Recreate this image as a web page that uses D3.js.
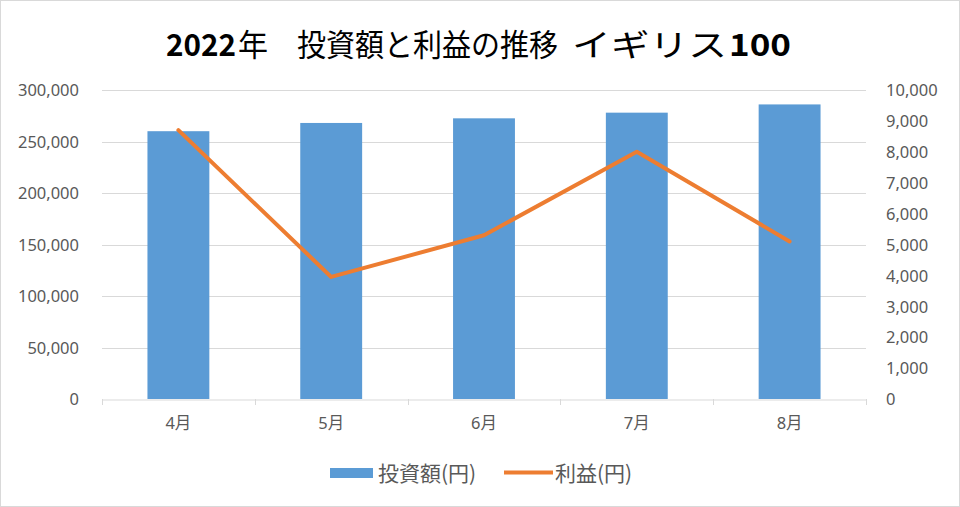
<!DOCTYPE html>
<html><head><meta charset="utf-8">
<script src="https://cdn.jsdelivr.net/npm/d3@7"></script>
<style>body{margin:0;background:#fff}svg{display:block}</style>
</head><body><svg id="c" width="960" height="507"></svg>
<script>
// title segments: text, bold, left x, width
const titleParts = [["2022",true,166,70],["年",false,238,30],["投資額と利益の推移",false,297,261],["イギリス",false,572,155],["100",true,729,62]];
const categories = ["4月","5月","6月","7月","8月"];
const investment = [260000, 268000, 272500, 278000, 286000];
const profit = [8700, 3950, 5300, 8000, 5100];
const leftTicks = [0,50000,100000,150000,200000,250000,300000];
const rightTicks = [0,1000,2000,3000,4000,5000,6000,7000,8000,9000,10000];
const seriesNames = ["投資額(円)","利益(円)"];

const svg = d3.select("#c");
const W=960,H=507;
const m={l:102,r:94,t:90,b:108};
const x0=m.l,x1=W-m.r,y0=H-m.b,y1=m.t;
svg.append("rect").attr("x",0.5).attr("y",0.5).attr("width",W-1).attr("height",H-1).attr("fill","#fff").attr("stroke","#d9d9d9");

const x=d3.scaleBand().domain(categories).range([x0,x1]).paddingInner(0.595).paddingOuter(0.2975);
const xb=d3.scaleBand().domain(categories).range([x0,x1]);
const yL=d3.scaleLinear().domain([0,300000]).range([y0,y1]);
const yR=d3.scaleLinear().domain([0,10000]).range([y0,y1]);
const fmt=d3.format(",");
const txt="#595959";
const font="'Noto Sans', 'Noto Sans CJK JP', sans-serif";
const cjk="'Noto Sans CJK JP', sans-serif";

// gridlines
svg.append("g").selectAll("line").data(leftTicks.filter(d=>d>0)).join("line")
 .attr("x1",x0).attr("x2",x1).attr("y1",d=>Math.round(yL(d))+0.5).attr("y2",d=>Math.round(yL(d))+0.5)
 .attr("stroke","#d9d9d9").attr("stroke-width",1);

// left axis
const gl=svg.append("g").attr("transform",`translate(${x0-20},0)`).call(d3.axisLeft(yL).tickValues(leftTicks).tickFormat(fmt).tickSize(0));
gl.select(".domain").remove();
gl.selectAll("text").attr("fill",txt).style("font-family",font).style("font-size","16.5px").attr("dy","0.35em");
// right axis
const gr=svg.append("g").attr("transform",`translate(${x1+20},0)`).call(d3.axisRight(yR).tickValues(rightTicks).tickFormat(fmt).tickSize(0));
gr.select(".domain").remove();
gr.selectAll("text").attr("fill",txt).style("font-family",font).style("font-size","16.5px").attr("dy","0.35em").attr("x",0);

// bars
svg.append("g").selectAll("rect").data(categories).join("rect")
 .attr("x",d=>x(d)).attr("width",x.bandwidth())
 .attr("y",(d,i)=>yL(investment[i])).attr("height",(d,i)=>y0-yL(investment[i]))
 .attr("fill","#5b9bd5");

// x axis
const gx=svg.append("g").attr("transform",`translate(0,${Math.round(y0)+0.5})`).call(d3.axisBottom(xb).tickSize(0).tickPadding(18));
gx.select(".domain").attr("stroke","#d9d9d9");
gx.selectAll("text").attr("fill",txt).style("font-family",font).style("font-size","16.5px");
svg.append("g").selectAll("line").data(categories.concat(["end"])).join("line")
 .attr("x1",(d,i)=>Math.round(x0+i*xb.step())+0.5).attr("x2",(d,i)=>Math.round(x0+i*xb.step())+0.5)
 .attr("y1",Math.round(y0)).attr("y2",Math.round(y0)+6).attr("stroke","#d9d9d9");

// line
const line=d3.line().x((d,i)=>xb(categories[i])+xb.bandwidth()/2).y(d=>yR(d));
svg.append("path").datum(profit).attr("d",line).attr("fill","none")
 .attr("stroke","#ed7d31").attr("stroke-width",4).attr("stroke-linejoin","round").attr("stroke-linecap","round");

// title
svg.append("g").selectAll("text").data(titleParts).join("text")
 .attr("x",d=>d[2]).attr("y",56).attr("textLength",d=>d[3]).attr("lengthAdjust","spacingAndGlyphs")
 .style("font-family",cjk).style("font-size","31px").style("font-weight",d=>d[1]?"bold":"normal")
 .attr("fill","#000").text(d=>d[0]);

// legend
const lg=svg.append("g");
lg.append("rect").attr("x",330).attr("y",468).attr("width",43).attr("height",10).attr("fill","#5b9bd5");
lg.append("text").attr("x",378).attr("y",473).attr("dy","0.36em").attr("fill",txt)
 .style("font-family",cjk).style("font-size","21px").text(seriesNames[0]);
lg.append("line").attr("x1",504).attr("x2",553).attr("y1",472.5).attr("y2",472.5).attr("stroke","#ed7d31").attr("stroke-width",4);
lg.append("text").attr("x",555).attr("y",473).attr("dy","0.36em").attr("fill",txt)
 .style("font-family",cjk).style("font-size","21px").text(seriesNames[1]);
</script></body></html>
